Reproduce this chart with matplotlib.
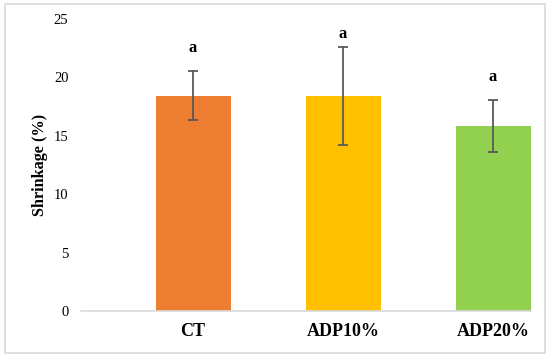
import matplotlib
matplotlib.use("Agg")
import matplotlib.pyplot as plt
from matplotlib.patches import Rectangle

categories = ["CT", "ADP10%", "ADP20%"]
values = [18.45, 18.4, 15.85]
errors = [2.1, 4.2, 2.25]
letters = ["a", "a", "a"]
letter_y = [22.5, 23.7, 20.0]
colors = ["#ED7D31", "#FFC000", "#92D050"]
yticks = [0, 5, 10, 15, 20, 25]

plt.rcParams['font.family'] = ['Liberation Serif', 'DejaVu Serif']

fig = plt.figure(figsize=(5.5, 3.58), dpi=100)
fig.patches.append(Rectangle((5/550, 1-353/358), 540/550, 349/358,
                             transform=fig.transFigure, fill=False,
                             edgecolor="#d9d9d9", linewidth=1.2))
ax = fig.add_axes([81/550, 1-311/358, 450/550, 292/358])
x = list(range(len(categories)))
ax.bar(x, values, width=0.5, color=colors, zorder=2)
ax.errorbar(x, values, yerr=errors, fmt="none", ecolor="#595959",
            elinewidth=1.3, capsize=3.5, capthick=1.3, zorder=3)
for xi, t, ty in zip(x, letters, letter_y):
    ax.text(xi, ty, t, ha="center", va="center", fontsize=12, fontweight="bold")

ax.set_xlim(-0.747, 2.253)
ax.set_ylim(0, 25)
ax.set_yticks(yticks)
ax.set_yticklabels([str(v) for v in yticks], fontsize=10.5)
ax.set_xticks(x)
ax.set_xticklabels(categories, fontsize=13, fontweight="bold")
ax.tick_params(axis="y", length=0, pad=9)
ax.tick_params(axis="x", length=0, pad=8.5)
for s in ["top", "right", "left"]:
    ax.spines[s].set_visible(False)
ax.spines["bottom"].set_color("#d9d9d9")
ax.spines["bottom"].set_linewidth(1.2)
ax.set_ylabel("Shrinkage (%)", fontsize=11.7, fontweight="bold", labelpad=4)

fig.savefig("out.png", dpi=100)
